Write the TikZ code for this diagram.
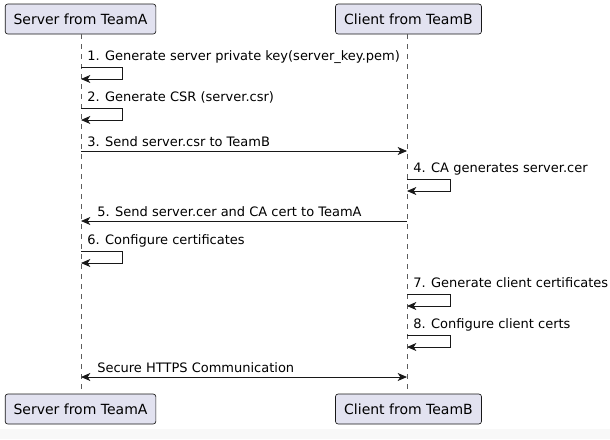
\documentclass[tikz,border=0pt]{standalone}
\usepackage{fontspec}
\setmainfont{DejaVu Sans}
\usetikzlibrary{arrows.meta}
\definecolor{partfill}{HTML}{E2E2F0}
\definecolor{partdraw}{HTML}{181818}
\definecolor{strip}{HTML}{F8F8F8}
\tikzset{
  part/.style={draw=partdraw, fill=partfill, rounded corners=2pt, line width=0.5pt,
    minimum height=22.5pt, inner sep=0, font=\fontsize{10.5pt}{12pt}\selectfont},
  lifeline/.style={draw=partdraw!70, line width=0.4pt, dash pattern=on 3.75pt off 3.75pt},
  msg/.style={draw=partdraw, line width=0.6pt, -{Stealth[length=7pt, width=6pt, inset=2pt]}},
  bimsg/.style={draw=partdraw, line width=0.6pt, {Stealth[length=7pt, width=6pt, inset=2pt]}-{Stealth[length=7pt, width=6pt, inset=2pt]}},
  lbl/.style={anchor=base west, inner sep=0, font=\fontsize{9.75pt}{11pt}\selectfont},
}
\begin{document}
\begin{tikzpicture}[x=0.75pt, y=-0.75pt]
\useasboundingbox (0,0) rectangle (610,439);
\fill[white] (0,0) rectangle (610,439);
\fill[strip] (0,429) rectangle (610,439);
% participants
\node[part, minimum width=113pt] (At) at (80.5,19) {Server from TeamA};
\node[part, minimum width=109.5pt] (Bt) at (408.5,19) {Client from TeamB};
\node[part, minimum width=113pt] (Ab) at (80.5,409) {Server from TeamA};
\node[part, minimum width=109.5pt] (Bb) at (408.5,409) {Client from TeamB};
\coordinate (A) at (81,0);
\coordinate (B) at (407,0);
\draw[lifeline] (At.south -| A) -- (Ab.north -| A);
\draw[lifeline] (Bt.south -| B) -- (Bb.north -| B);
% 1
\coordinate (a1) at (81,67); \coordinate (a1r) at (122,67); \coordinate (a1b) at (122,79); \coordinate (a1e) at (81,79);
\node[lbl] (t1) at (87,60) {1. Generate server private key(server\_key.pem)};
\draw[msg] (a1) -- (a1r) -- (a1b) -- (a1e);
% 2
\coordinate (a2) at (81,108); \coordinate (a2r) at (122,108); \coordinate (a2b) at (122,120); \coordinate (a2e) at (81,120);
\node[lbl] (t2) at (87,101) {2. Generate CSR (server.csr)};
\draw[msg] (a2) -- (a2r) -- (a2b) -- (a2e);
% 3
\coordinate (a3) at (81,151); \coordinate (b3) at (407,151);
\node[lbl] (t3) at (87,146) {3. Send server.csr to TeamB};
\draw[msg] (a3) -- (b3);
% 4
\coordinate (b4) at (407,179); \coordinate (b4r) at (450,179); \coordinate (b4b) at (450,191); \coordinate (b4e) at (407,191);
\node[lbl] (t4) at (413,172) {4. CA generates server.cer};
\draw[msg] (b4) -- (b4r) -- (b4b) -- (b4e);
% 5
\coordinate (b5) at (407,221); \coordinate (a5) at (81,221);
\node[lbl] (t5) at (97,216) {5. Send server.cer and CA cert to TeamA};
\draw[msg] (b5) -- (a5);
% 6
\coordinate (a6) at (81,251); \coordinate (a6r) at (122,251); \coordinate (a6b) at (122,263); \coordinate (a6e) at (81,263);
\node[lbl] (t6) at (87,244) {6. Configure certificates};
\draw[msg] (a6) -- (a6r) -- (a6b) -- (a6e);
% 7
\coordinate (b7) at (407,294); \coordinate (b7r) at (450,294); \coordinate (b7b) at (450,306); \coordinate (b7e) at (407,306);
\node[lbl] (t7) at (413,287) {7. Generate client certificates};
\draw[msg] (b7) -- (b7r) -- (b7b) -- (b7e);
% 8
\coordinate (b8) at (407,335); \coordinate (b8r) at (450,335); \coordinate (b8b) at (450,347); \coordinate (b8e) at (407,347);
\node[lbl] (t8) at (413,328) {8. Configure client certs};
\draw[msg] (b8) -- (b8r) -- (b8b) -- (b8e);
% secure
\coordinate (a9) at (81,377); \coordinate (b9) at (407,377);
\node[lbl] (t9) at (97,372) {Secure HTTPS Communication};
\draw[bimsg] (a9) -- (b9);
\end{tikzpicture}
\end{document}
